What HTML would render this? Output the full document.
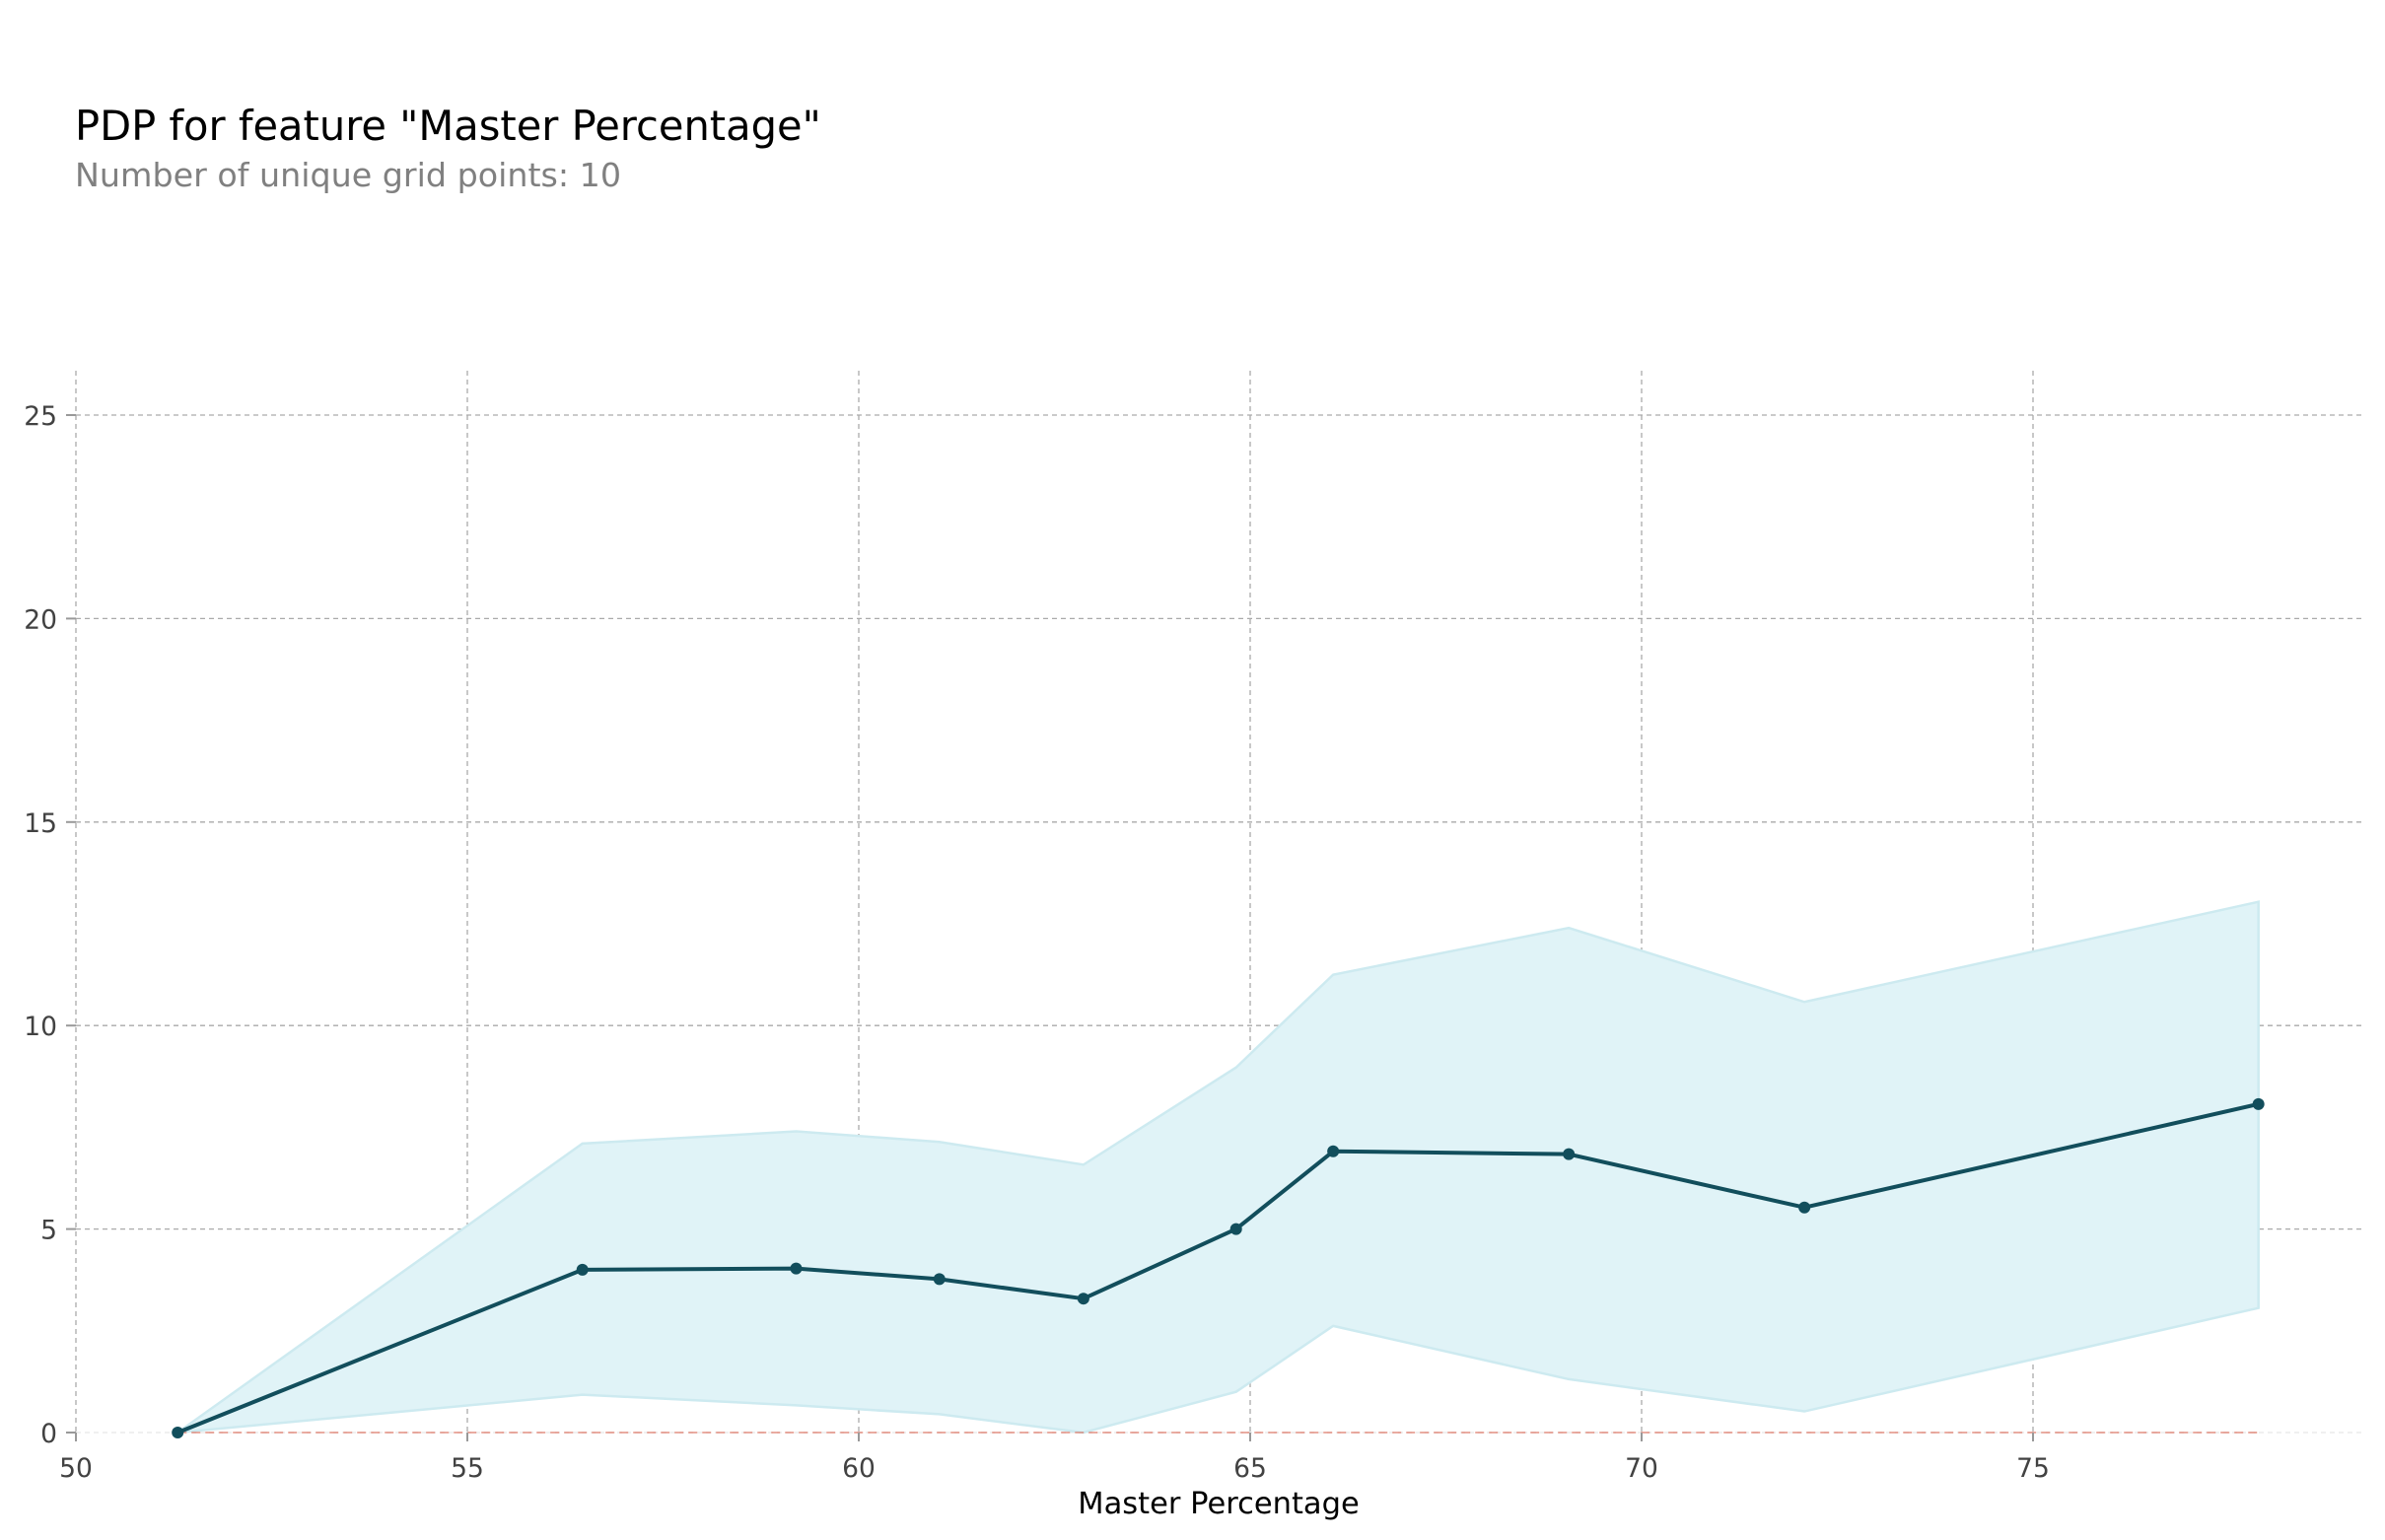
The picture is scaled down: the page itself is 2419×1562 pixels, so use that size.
<!DOCTYPE html>
<html><head><meta charset="utf-8"><style>
html,body{margin:0;padding:0;background:#fff;}
svg{display:block;font-family:"DejaVu Sans","Liberation Sans",sans-serif;}
</style></head><body>
<svg id="chart" width="2419" height="1562" viewBox="0 0 2419 1562" xmlns="http://www.w3.org/2000/svg">
<text x="76" y="142" font-size="41.6" fill="#000">PDP for feature "Master Percentage"</text>
<text x="76" y="189" font-size="33.3" fill="#808080">Number of unique grid points: 10</text>
<g id="grid"></g>
<g id="band"></g>
<g id="marks"></g>
<g id="axes"></g>
<text x="1236" y="1535" font-size="30.5" fill="#000" text-anchor="middle">Master Percentage</text>
</svg>
<script>
const xValues = [51.30, 56.47, 59.20, 61.03, 62.87, 64.82, 66.06, 69.07, 72.08, 77.88];
const pdpValues = [0, 4.0, 4.03, 3.77, 3.29, 5.0, 6.91, 6.84, 5.53, 8.07];
const upperValues = [0, 7.1, 7.4, 7.14, 6.58, 8.97, 11.25, 12.4, 10.58, 13.04];
const lowerValues = [0, 0.93, 0.67, 0.45, 0, 1.0, 2.62, 1.31, 0.52, 3.06];
const xTicks = [50, 55, 60, 65, 70, 75];
const yTicks = [0, 5, 10, 15, 20, 25];

const NS = "http://www.w3.org/2000/svg";
const X0 = 77, XL = 2399, YTOP = 376;
function sx(v){ return X0 + (v - 50) * 79.4; }
function sy(v){ return 1453 - v * 41.28; }
function mk(tag, attrs, parent){
  const e = document.createElementNS(NS, tag);
  for (const k in attrs) e.setAttribute(k, attrs[k]);
  parent.appendChild(e); return e;
}
const grid = document.getElementById('grid');
const axes = document.getElementById('axes');
const band = document.getElementById('band');
const marks = document.getElementById('marks');

xTicks.forEach(t => {
  const l = mk('line', {x1:sx(t), x2:sx(t), y1:YTOP, y2:1453, stroke:'#aaa', 'stroke-width':1.3, 'stroke-dasharray':'5,4'}, grid);
  
  
  const tk = mk('line', {x1:sx(t), x2:sx(t), y1:1453, y2:1462, stroke:'#999', 'stroke-width':2}, axes);
  
  
  const tx = mk('text', {x:sx(t), y:1498, 'font-size':26.5, fill:'#424242', 'text-anchor':'middle'}, axes);
  tx.textContent = t;
  
  
});
yTicks.forEach(t => {
  const l = mk('line', {x1:X0, x2:XL, y1:sy(t), y2:sy(t), stroke:t===0?'#e8e8e8':'#aaa', 'stroke-width':1.3, 'stroke-dasharray':'5,4'}, grid);
  
  
  const tk = mk('line', {x1:X0-10, x2:X0, y1:sy(t), y2:sy(t), stroke:'#999', 'stroke-width':2}, axes);
  
  
  const tx = mk('text', {x:X0-19, y:sy(t)+10, 'font-size':26.5, fill:'#424242', 'text-anchor':'end'}, axes);
  tx.textContent = t;
  
  
});

let pts = xValues.map((x,i)=>sx(x)+','+sy(upperValues[i]));
for (let i = xValues.length-1; i >= 0; i--) pts.push(sx(xValues[i])+','+sy(lowerValues[i]));
const poly = mk('polygon', {points:pts.join(' '), fill:'#e0f3f7', stroke:'#cdeaf0', 'stroke-width':2.5}, band);



const zl = mk('line', {x1:sx(xValues[0]), x2:sx(xValues[xValues.length-1]), y1:sy(0), y2:sy(0), stroke:'#d9634e', 'stroke-width':1.6, 'stroke-dasharray':'9,5', opacity:0.7}, marks);



const line = mk('polyline', {points:xValues.map((x,i)=>sx(x)+','+sy(pdpValues[i])).join(' '), fill:'none', stroke:'#124e5c', 'stroke-width':4, 'stroke-linejoin':'round'}, marks);


xValues.forEach((x,i) => {
  const c = mk('circle', {cx:sx(x), cy:sy(pdpValues[i]), r:6, fill:'#124e5c'}, marks);
  
  
});
</script>
</body></html>
